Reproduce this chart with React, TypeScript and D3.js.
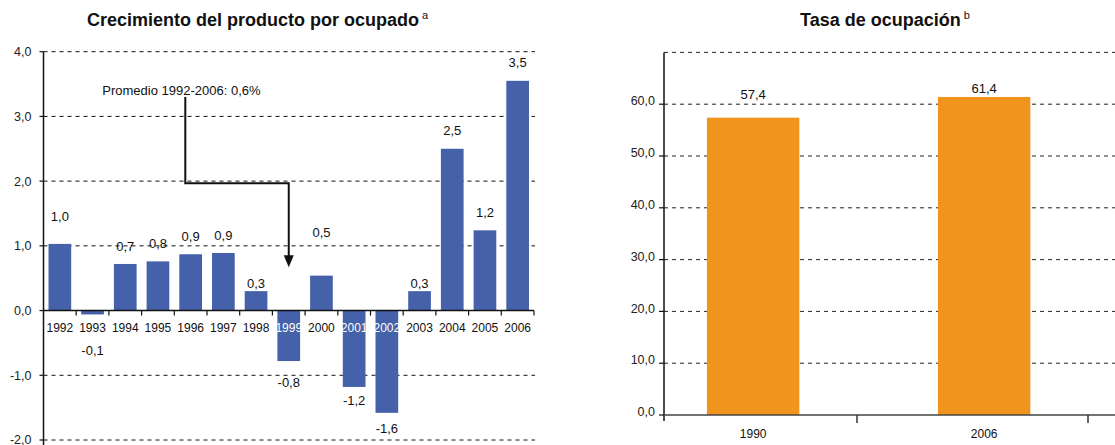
import React from "react";
import { scaleBand, scaleLinear } from "d3";

// --- data ---
const years = ["1992", "1993", "1994", "1995", "1996", "1997", "1998", "1999", "2000", "2001", "2002", "2003", "2004", "2005", "2006"];
const growth = [1.03, -0.06, 0.72, 0.76, 0.87, 0.89, 0.3, -0.78, 0.54, -1.18, -1.58, 0.3, 2.5, 1.24, 3.55];
const growthLabels = ["1,0", "-0,1", "0,7", "0,8", "0,9", "0,9", "0,3", "-0,8", "0,5", "-1,2", "-1,6", "0,3", "2,5", "1,2", "3,5"];
const growthTicks = [-2, -1, 0, 1, 2, 3, 4];

const rateYears = ["1990", "2006"];
const rate = [57.4, 61.4];
const rateLabels = ["57,4", "61,4"];
const rateTicks = [0, 10, 20, 30, 40, 50, 60];
const rateGrid = [10, 20, 30, 40, 50, 60, 70];

const averageNote = "Promedio 1992-2006: 0,6%";

// label placement tweaks (px), the original labels were hand-placed
const growthNudge: Record<string, number> = { "1992": 9, "1993": 20, "1998": -10, "1999": 5, "2000": 25, "2001": -2, "2003": -10 };
const rateNudge = [5, -10];

const FONT = "'Liberation Sans', Arial, Helvetica, sans-serif";
const BLUE = "#4461a9";
const ORANGE = "#f1941e";
const fmt = (v: number) => v.toFixed(1).replace(".", ",");

export default function App() {
  const W = 1115, H = 445;

  // left chart
  const yL = scaleLinear().domain([-2, 4]).range([440, 51.7]);
  const xL = scaleBand().domain(years).range([43.5, 534]).paddingInner(0.306).paddingOuter(0.153);
  const axL = xL.range()[0];
  const endL = xL.range()[1];
  const yearY = 331.5;

  // right chart
  const yR = scaleLinear().domain([0, 70]).range([415, 52.4]);
  const xR = scaleBand().domain(rateYears).range([626, 1088]).paddingInner(0.6).paddingOuter(0.3).align(0.584);
  const axR = 664;

  // annotation anchors
  const noteX = (xL("1996") as number) + 6;
  const noteTop = yL(3.3);
  const elbowY = yL(2) + 2;
  const arrowX = (xL("1999") as number) + xL.bandwidth() / 2;
  const arrowTip = yL(0.67);

  return (
    <svg width={W} height={H} style={{ position: "absolute", left: 0, top: 0, background: "#fff" }} fontFamily={FONT}>
      {/* titles */}
      <text x={87} y={26} fontSize={18} fontWeight="bold" fill="#111">
        Crecimiento del producto por ocupado
        <tspan fontSize={11} fontWeight="normal" dy={-7}> a</tspan>
      </text>
      <text x={800} y={26} fontSize={18} fontWeight="bold" fill="#111">
        Tasa de ocupación
        <tspan fontSize={11} fontWeight="normal" dy={-7}> b</tspan>
      </text>

      {/* ---------- left chart ---------- */}
      {growthTicks.filter((t) => t !== 0).map((t) => (
        <line key={"gl" + t} x1={axL} x2={endL + 1} y1={yL(t)} y2={yL(t)} stroke="#111" strokeWidth={1} strokeDasharray="4,4" />
      ))}
      {years.map((yr, i) => (
        <rect key={"b" + yr} x={xL(yr)} width={xL.bandwidth()} y={yL(Math.max(0, growth[i]))}
          height={Math.abs(yL(growth[i]) - yL(0))} fill={BLUE} />
      ))}
      {/* y axis */}
      <line x1={axL} x2={axL} y1={yL(4)} y2={H} stroke="#111" strokeWidth={1.5} />
      {growthTicks.map((t) => (
        <g key={"tl" + t}>
          <line x1={axL - 4} x2={axL} y1={yL(t)} y2={yL(t)} stroke="#111" strokeWidth={1.2} />
          <text x={axL - 12} y={yL(t)} dy="0.35em" textAnchor="end" fontSize={12.5} fill="#222">{fmt(t)}</text>
        </g>
      ))}
      {/* x axis */}
      <line x1={axL} x2={endL} y1={yL(0)} y2={yL(0)} stroke="#111" strokeWidth={1.5} />
      {years.map((yr, i) => (
        <line key={"xt" + yr} x1={axL + (i + 1) * xL.step()} x2={axL + (i + 1) * xL.step()} y1={yL(0)} y2={yL(0) + 5} stroke="#111" strokeWidth={1.2} />
      ))}
      {years.map((yr, i) => (
        <text key={"yl" + yr} x={(xL(yr) as number) + xL.bandwidth() / 2} y={yearY} textAnchor="middle" fontSize={12}
          fill={yL(growth[i]) > yearY + 2 ? "#fff" : "#111"}>{yr}</text>
      ))}
      {/* value labels */}
      {years.map((yr, i) => {
        const v = growth[i];
        const nudge = growthNudge[yr] || 0;
        const cy = v >= 0 ? yL(v) - 18 - nudge : yL(v) + 16 + nudge;
        return (
          <text key={"vl" + yr} x={(xL(yr) as number) + xL.bandwidth() / 2} y={cy} dy="0.35em" textAnchor="middle" fontSize={13} fill="#111">
            {growthLabels[i]}
          </text>
        );
      })}
      {/* average annotation */}
      <text x={noteX - 83} y={noteTop - 2} fontSize={13} fill="#111">{averageNote}</text>
      <polyline points={`${noteX},${noteTop} ${noteX},${elbowY} ${arrowX},${elbowY} ${arrowX},${arrowTip - 11}`}
        fill="none" stroke="#111" strokeWidth={2} />
      <polygon points={`${arrowX - 5},${arrowTip - 12} ${arrowX + 5},${arrowTip - 12} ${arrowX},${arrowTip}`} fill="#111" />

      {/* ---------- right chart ---------- */}
      {rateGrid.map((t) => (
        <line key={"gr" + t} x1={axR} x2={W} y1={yR(t)} y2={yR(t)} stroke="#222" strokeWidth={1} strokeDasharray="4,4" />
      ))}
      {rateYears.map((yr, i) => (
        <rect key={"rb" + yr} x={xR(yr)} width={xR.bandwidth()} y={yR(rate[i])} height={yR(0) - yR(rate[i])} fill={ORANGE} />
      ))}
      <line x1={axR} x2={axR} y1={yR(70)} y2={yR(0) + 6} stroke="#111" strokeWidth={1.5} />
      {rateTicks.map((t) => (
        <g key={"rt" + t}>
          <line x1={axR - 5} x2={axR} y1={yR(t)} y2={yR(t)} stroke="#111" strokeWidth={1.2} />
          <text x={axR - 9} y={yR(t)} dy="0.1em" textAnchor="end" fontSize={12.5} fill="#222">{fmt(t)}</text>
        </g>
      ))}
      <line x1={axR} x2={W} y1={yR(0)} y2={yR(0)} stroke="#444" strokeWidth={1.5} />
      {rateYears.map((yr, i) => {
        const tx = xR.range()[0] + (i + 1) * xR.step();
        return <line key={"rxt" + yr} x1={tx} x2={tx} y1={yR(0)} y2={yR(0) + 8} stroke="#333" strokeWidth={1.5} />;
      })}
      {rateYears.map((yr, i) => (
        <text key={"ryl" + yr} x={(xR(yr) as number) + xR.bandwidth() / 2} y={437.5} textAnchor="middle" fontSize={12} fill="#111">{yr}</text>
      ))}
      {rateYears.map((yr, i) => (
        <text key={"rvl" + yr} x={(xR(yr) as number) + xR.bandwidth() / 2} y={yR(rate[i]) - 18 - rateNudge[i]} dy="0.35em"
          textAnchor="middle" fontSize={13} fill="#111">{rateLabels[i]}</text>
      ))}
    </svg>
  );
}
